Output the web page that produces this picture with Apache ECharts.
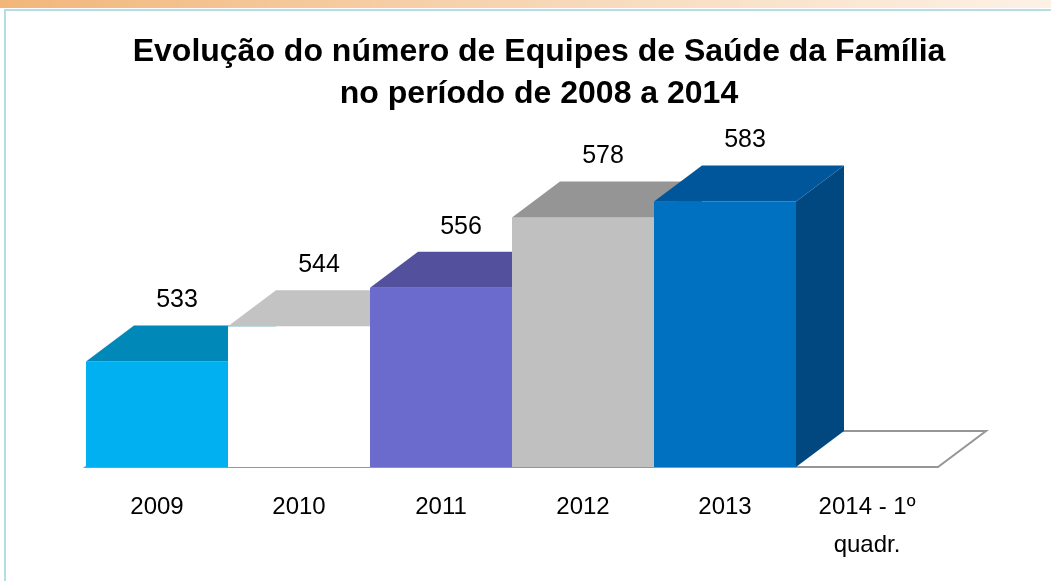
<!DOCTYPE html>
<html>
<head>
<meta charset="utf-8">
<script src="https://cdn.jsdelivr.net/npm/echarts@6/dist/echarts.min.js"></script>
<style>
    html, body { margin: 0; padding: 0; background: #ffffff; }
    #chart { width: 1051px; height: 581px; }
</style>
</head>
<body>
<div id="chart"></div>
<script>
// Chart data
const categories = ['2009', '2010', '2011', '2012', '2013', '2014 - 1º\nquadr.'];
const teamCounts = [533, 544, 556, 578, 583, null];

// Face colours per bar: front, top, side
const frontColors = ['#00b0f0', '#ffffff', '#6b6bcd', '#c0c0c0', '#0070c0', '#ffffff'];
const topColors = ['#0088b8', '#c3c3c3', '#53519e', '#959595', '#00569a', '#ffffff'];
const sideColors = ['#0088b8', '#c3c3c3', '#42407e', '#7a7a7a', '#00487f', '#ffffff'];

const axisMin = 500;
const depthX = 48;
const depthY = -36;

const chart = echarts.init(document.getElementById('chart'));

// 3D-looking bar: front face, top face and right side face
function renderBar(params, api) {
    const idx = api.value(0);
    const val = api.value(1);
    if (val == null || isNaN(val)) return;
    const top = api.coord([idx, val]);
    const base = api.coord([idx, axisMin]);
    const w = api.size([1, 0])[0];
    const x0 = top[0] - w / 2;
    const x1 = top[0] + w / 2;
    const yT = top[1];
    const yB = base[1];
    return {
        type: 'group',
        children: [
            {
                type: 'polygon',
                shape: { points: [[x1, yT], [x1 + depthX, yT + depthY], [x1 + depthX, yB + depthY], [x1, yB]] },
                style: { fill: sideColors[idx] }
            },
            {
                type: 'rect',
                shape: { x: x0, y: yT, width: w, height: yB - yT },
                style: { fill: frontColors[idx] }
            },
            {
                type: 'polygon',
                shape: { points: [[x0, yT], [x0 + depthX, yT + depthY], [x1 + depthX, yT + depthY], [x1, yT]] },
                style: { fill: topColors[idx] }
            },
            {
                type: 'text',
                style: {
                    text: String(val),
                    x: top[0] + 20,
                    y: yT - 61,
                    align: 'center',
                    verticalAlign: 'middle',
                    fontFamily: 'Liberation Sans, Arial, sans-serif',
                    fontSize: 25,
                    fill: '#000000'
                }
            }
        ]
    };
}

// Floor parallelogram under all categories
function renderFloor(params, api) {
    const first = api.coord([0, axisMin]);
    const last = api.coord([categories.length - 1, axisMin]);
    const w = api.size([1, 0])[0];
    const x0 = first[0] - w / 2;
    const x1 = last[0] + w / 2;
    const y = first[1];
    return {
        type: 'polygon',
        shape: { points: [[x0, y], [x1, y], [x1 + depthX, y + depthY], [x0 + depthX, y + depthY]] },
        style: { fill: '#ffffff', stroke: '#969696', lineWidth: 2 }
    };
}

const option = {
    backgroundColor: '#ffffff',
    animation: false,
    graphic: [
        {
            type: 'rect',
            shape: { x: 0, y: 0, width: 1051, height: 8 },
            style: {
                fill: new echarts.graphic.LinearGradient(0, 0, 1, 0, [
                    { offset: 0, color: '#f2b67a' },
                    { offset: 0.6, color: '#f8dcc0' },
                    { offset: 1, color: '#fdf1e6' }
                ])
            }
        },
        {
            type: 'rect',
            shape: { x: 5, y: 10, width: 1060, height: 600 },
            style: { fill: 'none', stroke: '#b5dde2', lineWidth: 2 }
        },
        {
            type: 'text',
            x: 539,
            y: 73,
            style: {
                text: 'Evolução do número de Equipes de Saúde da Família\nno período de 2008 a 2014',
                align: 'center',
                verticalAlign: 'middle',
                fontFamily: 'Liberation Sans, Arial, sans-serif',
                fontWeight: 'bold',
                fontSize: 32,
                lineHeight: 42,
                fill: '#000000'
            },
            z: 10
        }
    ],
    grid: {
        left: 86,
        width: 852,
        top: 147,
        height: 320
    },
    xAxis: {
        type: 'category',
        data: categories,
        axisLine: { show: false },
        axisTick: { show: false },
        splitLine: { show: false },
        axisLabel: {
            interval: 0,
            margin: 21,
            color: '#000000',
            fontFamily: 'Liberation Sans, Arial, sans-serif',
            fontSize: 24,
            lineHeight: 38,
            verticalAlign: 'top'
        }
    },
    yAxis: {
        type: 'value',
        min: axisMin,
        max: 600,
        show: false,
        splitLine: { show: false }
    },
    series: [
        {
            type: 'custom',
            renderItem: renderFloor,
            data: [[0, axisMin]],
            z: 1
        },
        {
            type: 'custom',
            renderItem: renderBar,
            data: teamCounts.map((v, i) => [i, v]),
            z: 2
        }
    ]
};

chart.setOption(option);
</script>
</body>
</html>
